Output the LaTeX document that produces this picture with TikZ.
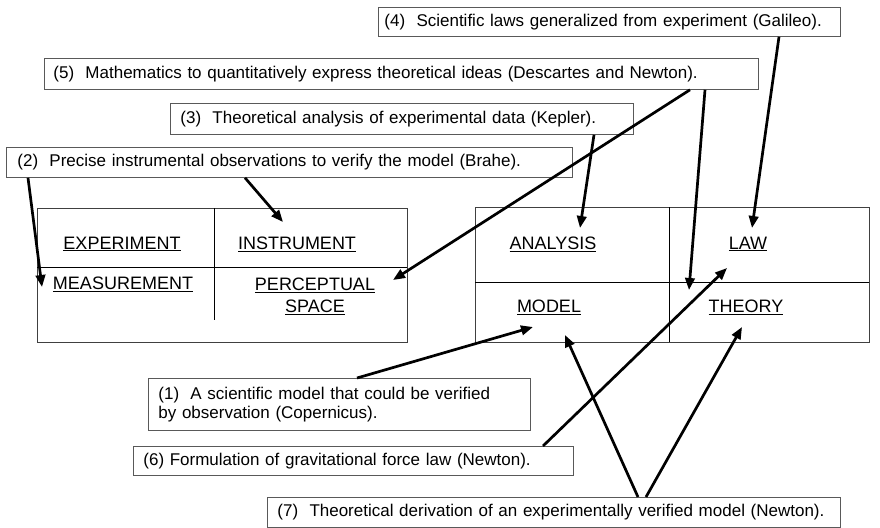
\documentclass[tikz,border=0pt]{standalone}
\usepackage{fontspec}
\setmainfont{Liberation Sans}
\usetikzlibrary{arrows.meta}

\begin{document}
\begin{tikzpicture}[x=1pt,y=-1pt,
  note/.style={draw=black!65,line width=0.8pt,anchor=north west,inner xsep=10pt,inner ysep=0pt,align=left,font=\fontsize{17}{19}\selectfont},
  cell/.style={inner sep=0pt,align=center,font=\fontsize{18}{22}\selectfont},
  ptr/.style={line width=2.7pt,-{Triangle[length=12pt,width=9.5pt]}}]

\useasboundingbox (0,0) rectangle (880,527);

% the two tables
\draw[black!75,line width=0.8pt] (37,208) rectangle (407,342);
\draw[line width=0.7pt] (37,267) -- (407,267);
\draw[line width=0.7pt] (214,208) -- (214,320);
\draw[black!75,line width=0.8pt] (475,207) rectangle (869,342);
\draw[line width=0.7pt] (475,282) -- (869,282);
\draw[line width=0.7pt] (669,207) -- (669,342);

\node[cell] (exp) at (122,244) {\underline{EXPERIMENT}};
\node[cell] (ins) at (297,244) {\underline{INSTRUMENT}};
\node[cell] (mea) at (123,284) {\underline{MEASUREMENT}};
\node[cell] (per) at (315,296) {\underline{PERCEPTUAL}\\\underline{SPACE}};

\node[cell] (ana) at (553,244) {\underline{ANALYSIS}};
\node[cell] (law) at (748,244) {\underline{LAW}};
\node[cell] (mod) at (549,307) {\underline{MODEL}};
\node[cell] (the) at (746,307) {\underline{THEORY}};

% the numbered notes
\node[note,inner xsep=6pt,text width=450pt,minimum height=29pt] (n4) at (378,7) {(4)\ \ Scientific laws generalized from experiment (Galileo).};
\node[note,inner xsep=9pt,text width=696pt,minimum height=31pt] (n5) at (44,58) {(5)\ \ Mathematics to quantitatively express theoretical ideas (Descartes and Newton).};
\node[note,text width=443pt,minimum height=31pt] (n3) at (170,103) {(3)\ \ Theoretical analysis of experimental data (Kepler).};
\node[note,inner xsep=11pt,text width=544pt,minimum height=30pt] (n2) at (6,147) {(2)\ \ Precise instrumental observations to verify the model (Brahe).};
\node[note,text width=362pt,minimum height=52pt] (n1) at (148,378) {(1)\ \ A scientific model that could be verified\\by observation (Copernicus).};
\node[note,text width=420pt,minimum height=29pt] (n6) at (133,446) {(6) Formulation of gravitational force law (Newton).};
\node[note,text width=553pt,minimum height=30pt] (n7) at (267,497) {(7)\ \ Theoretical derivation of an experimentally verified model (Newton).};

% arrow tips
\coordinate (meaTip) at (42,287);
\coordinate (insTip) at (283,222);
\coordinate (perTip) at (393,280);
\coordinate (theTipA) at (689,290);
\coordinate (anaTip) at (580,228);
\coordinate (lawTipA) at (752,228);
\coordinate (modTipA) at (533,327);
\coordinate (lawTipB) at (727,268);
\coordinate (modTipB) at (565,335);
\coordinate (theTipB) at (742,327);

\draw[ptr] ([xshift=22pt]n2.south west) -- (meaTip);
\draw[ptr] ([xshift=239pt]n2.south west) -- (insTip);
\draw[ptr] ([xshift=646pt]n5.south west) -- (perTip);
\draw[ptr] ([xshift=661pt]n5.south west) -- (theTipA);
\draw[ptr] ([xshift=424pt]n3.south west) -- (anaTip);
\draw[ptr] ([xshift=401pt]n4.south west) -- (lawTipA);
\draw[ptr] ([xshift=209pt]n1.north west) -- (modTipA);
\draw[ptr] ([xshift=410pt]n6.north west) -- (lawTipB);
\draw[ptr] ([xshift=371pt]n7.north west) -- (modTipB);
\draw[ptr] ([xshift=379pt]n7.north west) -- (theTipB);

\end{tikzpicture}
\end{document}
